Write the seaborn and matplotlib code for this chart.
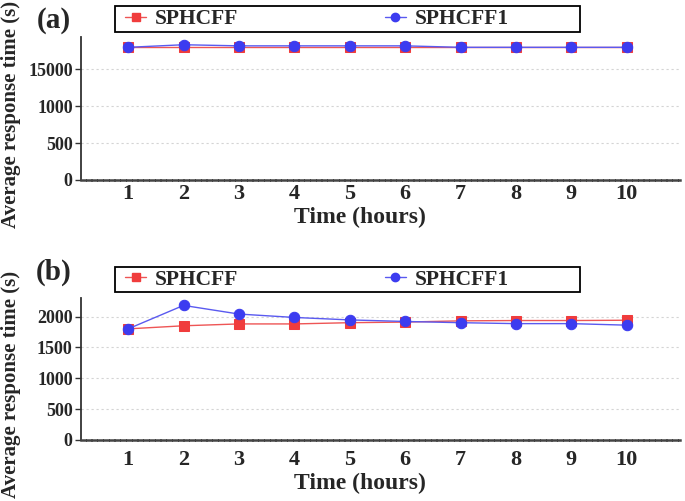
import numpy as np
import pandas as pd
import seaborn as sns
import matplotlib
matplotlib.use("Agg")
import matplotlib.pyplot as plt
from matplotlib.patches import Rectangle
from matplotlib.lines import Line2D

hours = [1, 2, 3, 4, 5, 6, 7, 8, 9, 10]
a_sphcff = [18000, 18000, 18000, 18000, 18000, 18000, 18000, 18000, 18000, 18000]
a_sphcff1 = [18000, 18350, 18200, 18200, 18200, 18200, 18000, 18000, 18000, 18000]
b_sphcff = [1800, 1850, 1880, 1880, 1900, 1910, 1930, 1935, 1935, 1940]
b_sphcff1 = [1800, 2180, 2040, 1985, 1945, 1920, 1900, 1885, 1885, 1860]
a_yticks = [0, 500, 1000, 15000]
b_yticks = [0, 500, 1000, 1500, 2000]
series_names = ["SPHCFF", "SPHCFF1"]

RED = "#f03c3c"
BLUE = "#3c3cf0"
RED_LINE = "#ee5555"
BLUE_LINE = "#5a5af0"

sns.set_style("white")
plt.rcParams["font.family"] = ["Liberation Serif", "DejaVu Serif"]
plt.rcParams["font.weight"] = "bold"

fig = plt.figure(figsize=(6.85, 5.01), dpi=100)
W, H = 685, 501


def axes_px(l, t, r, b):
    return fig.add_axes([l / W, 1 - b / H, (r - l) / W, (b - t) / H])


ax1 = axes_px(81, 37, 680, 180)
ax2 = axes_px(81, 298, 680, 440)


def fwd(y):
    y = np.asarray(y, dtype=float)
    return np.where(y <= 1000, y, np.where(y >= 15000, y / 10.0, 1000 + (y - 1000) * 500.0 / 14000.0))


def inv(p):
    p = np.asarray(p, dtype=float)
    return np.where(p <= 1000, p, np.where(p >= 1500, p * 10.0, 1000 + (p - 1000) * 14000.0 / 500.0))


def draw(ax, y1, y2):
    df = pd.DataFrame({"hour": hours * 2,
                       "time": list(y1) + list(y2),
                       "method": [series_names[0]] * len(hours) + [series_names[1]] * len(hours)})
    sns.lineplot(data=df[df.method == series_names[0]], x="hour", y="time", ax=ax,
                 color=RED_LINE, lw=1.0, marker="s", markersize=7,
                 markerfacecolor=RED, markeredgecolor=RED, zorder=3, legend=False)
    sns.lineplot(data=df[df.method == series_names[1]], x="hour", y="time", ax=ax,
                 color=BLUE_LINE, lw=1.0, marker="o", markersize=7.5,
                 markerfacecolor=BLUE, markeredgecolor=BLUE, zorder=4, legend=False)


draw(ax1, a_sphcff, a_sphcff1)
draw(ax2, b_sphcff, b_sphcff1)

ax1.set_yscale("function", functions=(fwd, inv))
ax1.set_ylim(0, 19400)
ax1.set_yticks(a_yticks)
ax1.set_yticklabels([str(v) for v in a_yticks])
ax2.set_ylim(0, 2300)
ax2.set_yticks(b_yticks)
ax2.set_yticklabels([str(v) for v in b_yticks])

for ax, xpad, xl_y, yl_y in [(ax1, 3, -0.19, 0.46), (ax2, 7, -0.235, 0.39)]:
    ax.set_xlim(0.15, 10.96)
    ax.set_xticks(hours)
    ax.set_xticklabels([str(h) for h in hours])
    ax.tick_params(axis="x", length=0, pad=xpad, labelsize=16)
    ax.tick_params(axis="y", length=4, width=1, color="#333333", pad=2, labelsize=13, left=True)
    for lab in ax.get_xticklabels() + ax.get_yticklabels():
        lab.set_fontweight("bold")
    ax.grid(axis="y", color="#d4d4d4", linestyle=(0, (2, 2.5)), linewidth=0.8)
    ax.grid(axis="x", visible=False)
    for s in ["top", "right"]:
        ax.spines[s].set_visible(False)
    ax.spines["left"].set_color("#333333")
    ax.spines["left"].set_linewidth(1.3)
    ax.spines["bottom"].set_color("#444444")
    ax.spines["bottom"].set_linewidth(1.8)
    ax.spines["bottom"].set_linestyle((0, (1.5, 0.8)))
    ax.set_xlabel("Time (hours)", fontsize=17, fontweight="bold")
    ax.set_ylabel("Average response time (s)", fontsize=15, fontweight="bold")
    ax.xaxis.set_label_coords(0.466, xl_y)
    ax.yaxis.set_label_coords(-0.1, yl_y)

fig.text(54 / W, 1 - 20 / H, "(a)", fontsize=21, fontweight="bold", ha="center", va="center")
fig.text(54 / W, 1 - 272 / H, "(b)", fontsize=21, fontweight="bold", ha="center", va="center")

handles = [Line2D([], [], color=RED_LINE, lw=1.0, marker="s", markersize=6,
                  markerfacecolor=RED, markeredgecolor=RED),
           Line2D([], [], color=BLUE_LINE, lw=1.0, marker="o", markersize=6,
                  markerfacecolor=BLUE, markeredgecolor=BLUE)]

for top, bot in [(6, 32), (267, 292)]:
    fig.patches.append(Rectangle((115 / W, 1 - bot / H), (580 - 115) / W, (bot - top) / H,
                                 transform=fig.transFigure, fill=False,
                                 edgecolor="black", linewidth=1.3))
    fig.legend(handles, series_names, loc="center left",
               bbox_to_anchor=(114 / W, 1 - (top + bot) / 2 / H), ncol=2,
               frameon=False, prop={"family": "Liberation Serif", "weight": "bold", "size": 15.5},
               handlelength=1.0, handletextpad=0.4, columnspacing=6.8, borderpad=0.0)

fig.savefig("out.png", dpi=100)
